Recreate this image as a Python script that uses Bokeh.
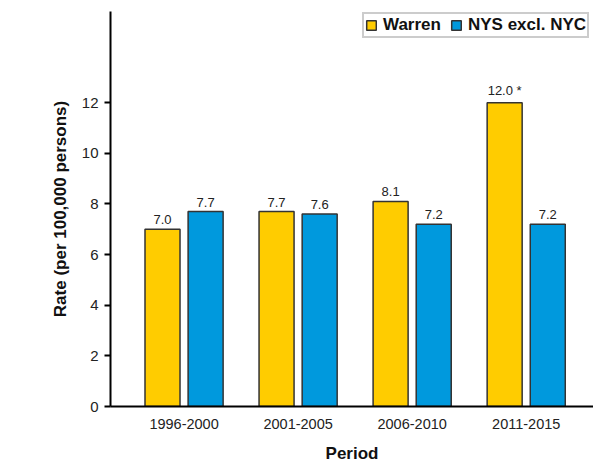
from bokeh.plotting import figure
from bokeh.models import ColumnDataSource, Range1d, FixedTicker, Legend, LegendItem, LabelSet
from bokeh.core.properties import value
from bokeh.embed import file_html
from bokeh.resources import INLINE

periods = ["1996-2000", "2001-2005", "2006-2010", "2011-2015"]
warren = [7.0, 7.7, 8.1, 12.0]
nys = [7.7, 7.6, 7.2, 7.2]
warren_flag = ["", "", "", " *"]
series_names = ["Warren", "NYS excl. NYC"]
y_ticks = [0, 2, 4, 6, 8, 10, 12]

font = "Liberation Sans"
idx = list(range(len(periods)))
src_w = ColumnDataSource(dict(x=[i - 0.189 for i in idx], top=warren,
                              lab=[f"{v:.1f}{f}" for v, f in zip(warren, warren_flag)]))
src_n = ColumnDataSource(dict(x=[i + 0.189 for i in idx], top=nys,
                              lab=[f"{v:.1f}" for v in nys]))

p = figure(frame_width=483, frame_height=395, output_backend="svg", toolbar_location=None,
           x_range=Range1d(-0.645, 3.59), y_range=Range1d(0, 15.6),
           min_border_left=110, min_border_top=11, min_border_bottom=10, min_border_right=0)
p.outline_line_color = None
p.xgrid.visible = False
p.ygrid.visible = False

rw = p.vbar(x="x", top="top", width=0.307, source=src_w, fill_color="#FFCC00",
            line_color="#333333", line_width=1.5)
rn = p.vbar(x="x", top="top", width=0.307, source=src_n, fill_color="#0099DD",
            line_color="#333333", line_width=1.5)

for s in (src_w, src_n):
    p.add_layout(LabelSet(x="x", y="top", text="lab", source=s, text_align="center",
                          text_baseline="bottom", y_offset=5, text_font_size=value("13px"),
                          text_font=value(font), text_color="#222222"))

p.yaxis.ticker = FixedTicker(ticks=y_ticks)
p.yaxis.minor_tick_line_color = None
p.yaxis.major_tick_in = 0
p.yaxis.major_tick_out = 6
p.yaxis.major_tick_line_width = 2
p.yaxis.axis_line_width = 2
p.yaxis.axis_line_color = "black"
p.yaxis.major_label_text_font_size = "15px"
p.yaxis.major_label_text_font = font
p.yaxis.major_label_text_color = "#222222"
p.yaxis.major_label_standoff = 6
p.yaxis.axis_label = "Rate (per 100,000 persons)"
p.yaxis.axis_label_text_font = font
p.yaxis.axis_label_text_font_style = "bold"
p.yaxis.axis_label_text_font_size = "17px"
p.yaxis.axis_label_text_color = "#111111"
p.yaxis.axis_label_standoff = 9

p.xaxis.ticker = FixedTicker(ticks=idx)
p.xaxis.major_label_overrides = {i: periods[i] for i in idx}
p.xaxis.major_tick_line_color = None
p.xaxis.minor_tick_line_color = None
p.xaxis.axis_line_width = 2
p.xaxis.axis_line_color = "black"
p.xaxis.major_label_text_font_size = "14.5px"
p.xaxis.major_label_text_font = font
p.xaxis.major_label_text_color = "#222222"
p.xaxis.major_label_standoff = 6
p.xaxis.axis_label = "Period"
p.xaxis.axis_label_text_font = font
p.xaxis.axis_label_text_font_style = "bold"
p.xaxis.axis_label_text_font_size = "17px"
p.xaxis.axis_label_text_color = "#111111"
p.xaxis.axis_label_standoff = 12

legend = Legend(items=[LegendItem(label=series_names[0], renderers=[rw]),
                       LegendItem(label=series_names[1], renderers=[rn])],
                orientation="horizontal", location=(252, 368),
                label_text_font=font, label_text_font_style="bold",
                label_text_font_size="17px", label_text_color="#111111",
                glyph_width=12, glyph_height=12, label_standoff=6, spacing=9,
                padding=1, margin=0, border_line_color="#999999", border_line_width=2,
                background_fill_alpha=1, label_height=12)
p.add_layout(legend, "center")
legend.item_background_policy = "none"

open("out.html", "w").write(file_html(p, INLINE))
